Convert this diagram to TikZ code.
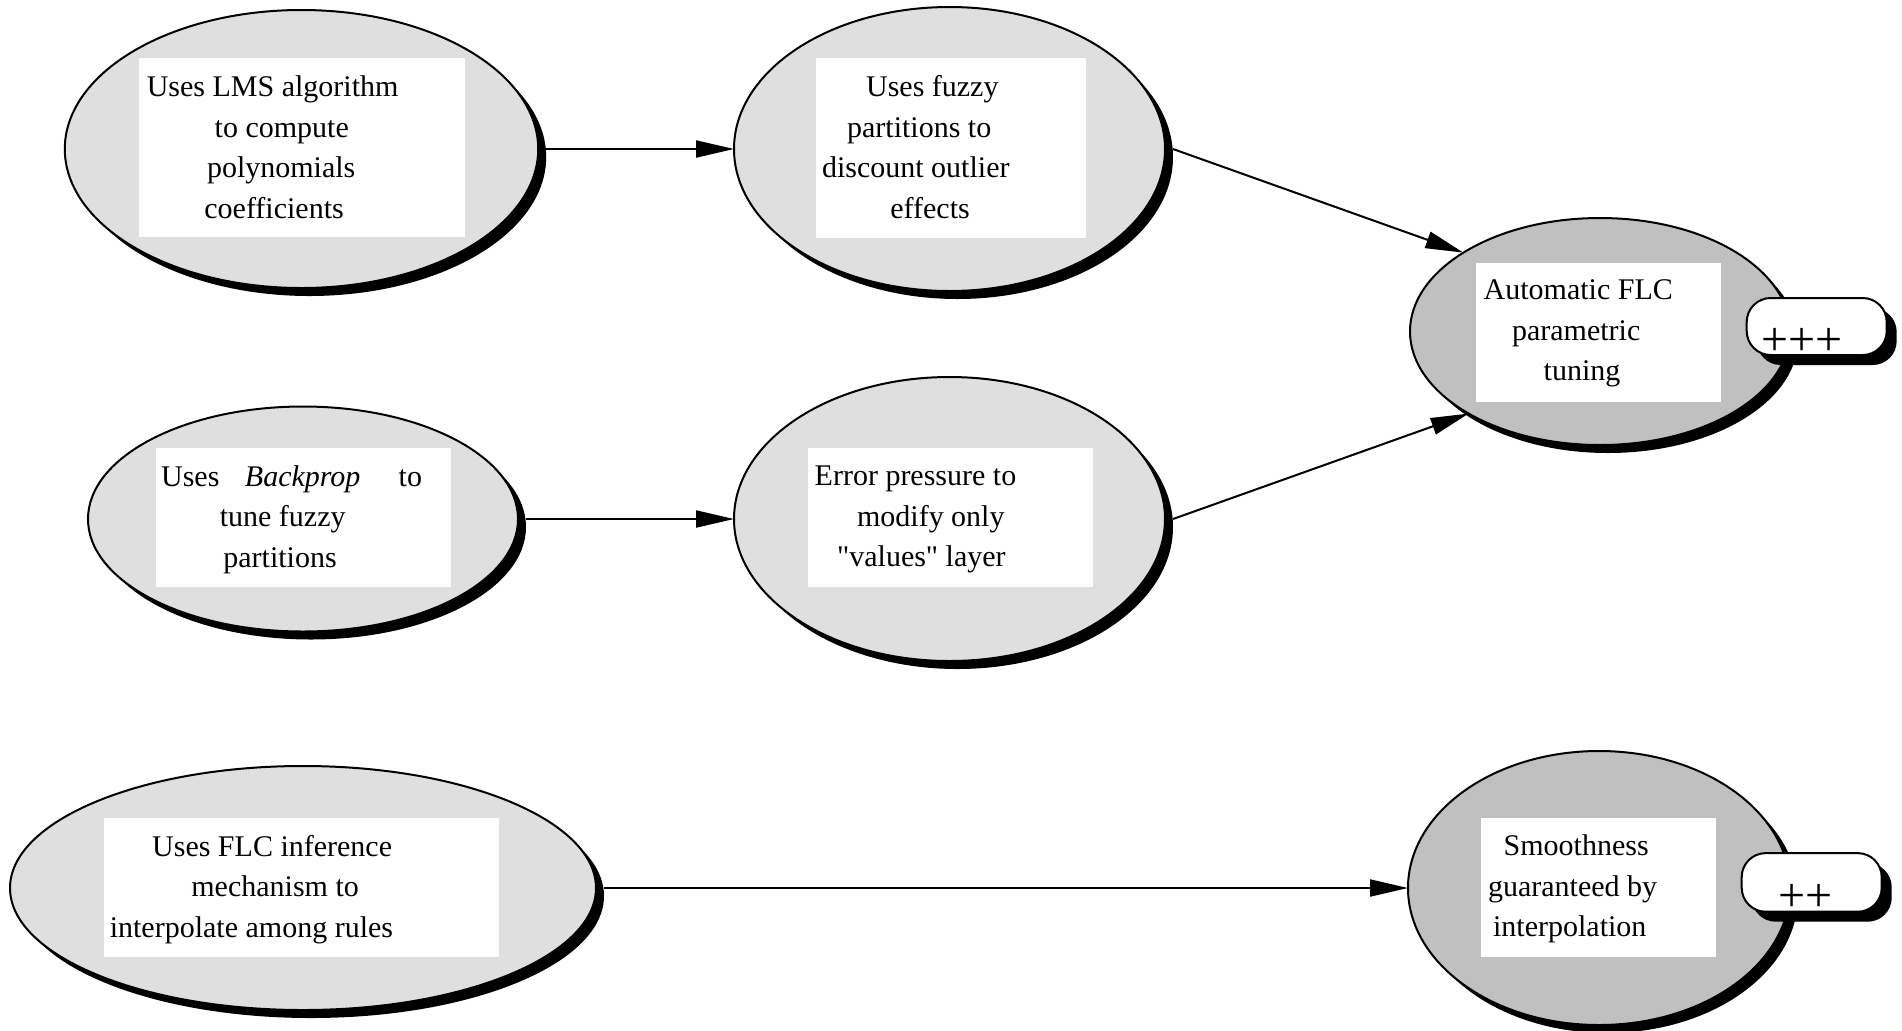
\documentclass[tikz,border=0pt]{standalone}
\usepackage{fontspec}
\setmainfont{Liberation Serif}
\newfontfamily\qfont{Liberation Serif}
\usetikzlibrary{shapes.geometric,arrows.meta,shadows}
\definecolor{lightfill}{HTML}{DFDFDF}
\definecolor{darkfill}{HTML}{C0C0C0}
\begin{document}
\begin{tikzpicture}[x=0.5pt,y=-0.5pt,
  ell/.style={ellipse, draw=black, line width=1pt, inner sep=0pt, outer sep=0pt,
    drop shadow={shadow xshift=4pt, shadow yshift=-4pt, fill=black, opacity=1}},
  light/.style={fill=lightfill},
  dark/.style={fill=darkfill},
  wbox/.style={rectangle, fill=white, draw=none, inner sep=0pt},
  txt/.style={font=\fontsize{15}{20.25}\selectfont, align=left, inner sep=0pt, anchor=west},
  pill/.style={rectangle, rounded corners=12pt, draw=black, line width=1pt, fill=white,
    inner sep=0pt, minimum width=70pt,
    drop shadow={shadow xshift=5pt, shadow yshift=-5pt, fill=black, opacity=1}},
  plus/.style={font=\fontsize{24}{27}\selectfont, inner sep=0pt},
  arr/.style={-{Triangle[length=19pt,width=8.5pt]}, line width=1pt, draw=black}
]
\useasboundingbox (0,0) rectangle (1902,1030);

% ellipses
\node[ell, light, minimum width=236.7pt, minimum height=139pt] (e1) at (301.5,149) {};
\node[ell, light, minimum width=215.5pt, minimum height=142pt] (e2) at (949.5,149) {};
\node[ell, dark,  minimum width=190pt,   minimum height=113.5pt] (e3) at (1600,331.5) {};
\node[ell, light, minimum width=215pt,   minimum height=112.5pt] (e4) at (303,519) {};
\node[ell, light, minimum width=215.5pt, minimum height=142pt] (e5) at (949.5,519) {};
\node[ell, light, minimum width=293pt,   minimum height=122pt] (e6) at (303,888) {};
\node[ell, dark,  minimum width=191pt,   minimum height=137pt] (e7) at (1599,888) {};

% white boxes
\node[wbox, minimum width=163pt,   minimum height=89.5pt] (b1) at (302,147.5) {};
\node[wbox, minimum width=135pt,   minimum height=89.8pt] (b2) at (951,148) {};
\node[wbox, minimum width=122.4pt, minimum height=69.4pt] (b3) at (1598.4,332.4) {};
\node[wbox, minimum width=147.7pt, minimum height=69.5pt] (b4) at (303.3,517.5) {};
\node[wbox, minimum width=142.7pt, minimum height=69.5pt] (b5) at (950.4,517.5) {};
\node[wbox, minimum width=197.5pt, minimum height=69.5pt] (b6) at (301.2,887.5) {};
\node[wbox, minimum width=117.5pt, minimum height=69.5pt] (b7) at (1598.5,887.5) {};

% texts
\node[txt] (t1) at (146.4,149.4) {\strut Uses LMS algorithm\\
  \hspace*{33.95pt}\strut to compute\\
  \hspace*{30.1pt}\strut polynomials\\
  \hspace*{28.8pt}\strut coefficients};
\node[txt] (t2) at (821.7,149.4) {\hspace*{22pt}\strut Uses fuzzy\\
  \hspace*{12.5pt}\strut partitions to\\
  \strut discount outlier\\
  \hspace*{34.15pt}\strut effects};
\node[txt] (t3) at (1483.3,331.9) {\strut Automatic FLC\\
  \hspace*{14.2pt}\strut parametric\\
  \hspace*{30pt}\strut tuning};
\node[txt] (t4) at (160.7,518.6) {\strut Uses\hspace{12.75pt}\textit{Backprop}\hspace{19.15pt}to\\
  \hspace*{29.35pt}\strut tune fuzzy\\
  \hspace*{31.15pt}\strut partitions};
\node[txt] (t5) at (814.3,518.3) {\strut Error pressure to\\
  \hspace*{21.2pt}\strut modify only\\
  \hspace*{11.2pt}\strut {\qfont"}values{\qfont"} layer};
\node[txt] (t6) at (109.4,888.6) {\hspace*{21.2pt}\strut Uses FLC inference\\
  \hspace*{40.8pt}\strut mechanism to\\
  \strut interpolate among rules};
\node[txt] (t7) at (1487.7,888.3) {\hspace*{7.8pt}\strut Smoothness\\
  \strut guaranteed by\\
  \hspace*{2.5pt}\strut interpolation};

% arrows
\draw[arr] ([xshift=4pt]e1.east) -- (e2.west);
\draw[arr] ([xshift=4pt]e2.east) -- (e3.150);
\draw[arr] ([xshift=4pt]e4.east) -- (e5.west);
\draw[arr] ([xshift=4pt]e5.east) -- (e3.212);
\draw[arr] ([xshift=4pt]e6.east) -- (e7.west);

% rating pills
\node[pill, minimum height=28.5pt] (p1) at (1816.7,326.5) {};
\node[plus] (q1) at (1802,341.5) {+++};
\node[pill, minimum height=29.3pt] (p2) at (1811.7,882.4) {};
\node[plus] (q2) at (1805.3,898) {++};
\end{tikzpicture}
\end{document}
